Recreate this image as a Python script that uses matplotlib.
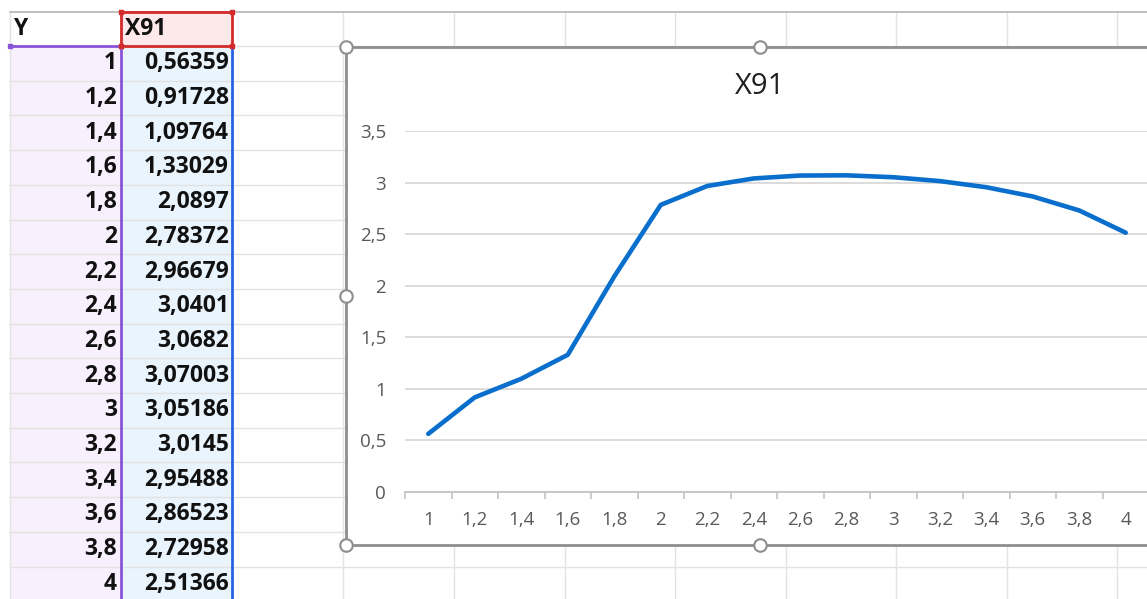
import numpy as np
import matplotlib
matplotlib.use("Agg")
import matplotlib.pyplot as plt
from matplotlib.patches import Rectangle

plt.rcParams['font.family'] = ['Open Sans', 'DejaVu Sans']

# Worksheet data
y_header = "Y"
x_header = "X91"
y_values = [1, 1.2, 1.4, 1.6, 1.8, 2, 2.2, 2.4, 2.6, 2.8, 3, 3.2, 3.4, 3.6, 3.8, 4]
x91_values = [0.56359, 0.91728, 1.09764, 1.33029, 2.0897, 2.78372, 2.96679, 3.0401,
              3.0682, 3.07003, 3.05186, 3.0145, 2.95488, 2.86523, 2.72958, 2.51366]
y_axis_ticks = [0, 0.5, 1, 1.5, 2, 2.5, 3, 3.5]


def fmt(v):
    return f"{v:g}".replace('.', ',')


W, H = 1147, 599
fig = plt.figure(figsize=(W / 100, H / 100), dpi=100)
fig.patch.set_facecolor('white')

# Sheet layer in pixel coordinates
bg = fig.add_axes([0, 0, 1, 1])
bg.set_xlim(0, W)
bg.set_ylim(H, 0)
bg.axis('off')

col_edges = [10, 121, 232, 343, 454, 565, 675, 786, 896, 1007, 1117]
top = 12
header_bottom = 46
row_h = 34.7
row_edges = [header_bottom + row_h * k for k in range(17)]

# cell fills
bg.add_patch(Rectangle((10, header_bottom), 111, H - header_bottom, fc='#f8f0fc', ec='none', zorder=0))
bg.add_patch(Rectangle((121, header_bottom), 111, H - header_bottom, fc='#eaf4fd', ec='none', zorder=0))
bg.add_patch(Rectangle((121, top), 111, header_bottom - top, fc='#fde9ea', ec='none', zorder=0))

grid_c = '#e2e2e2'
for yr in row_edges:
    bg.plot([10, W], [yr, yr], color=grid_c, lw=1.0, zorder=1)
for xc in col_edges:
    bg.plot([xc, xc], [top, H], color=grid_c, lw=1.0, zorder=1)
bg.plot([10, W], [top, top], color='#b4b4b4', lw=1.2, zorder=1)

# chart area
cl, ct, cb = 346, 47, 545
bg.add_patch(Rectangle((cl, ct), W + 20 - cl, cb - ct, fc='white', ec='#8e8e8e', lw=2.0, zorder=2))

# range highlight borders
purple = '#8a55d8'
red = '#d42a2a'
blue = '#2a62e0'
bg.plot([10, 121], [header_bottom, header_bottom], color=purple, lw=2, zorder=3)
bg.plot([121, 121], [header_bottom, H], color=purple, lw=2, zorder=3)
bg.plot([232, 232], [header_bottom, H], color=blue, lw=2, zorder=3)
bg.plot([121, 232, 232, 121, 121], [top, top, header_bottom, header_bottom, top], color=red, lw=2, zorder=3)
bg.plot([10, 121], [header_bottom, header_bottom], 's', ms=3.5, color=purple, zorder=4)
bg.plot([121, 232, 121, 232], [top, top, header_bottom, header_bottom], 's', ms=3.5, color=red, zorder=4)

# table text
tfont = dict(fontsize=16.5, fontweight='bold', color='#111111', zorder=5)
bg.text(13, (top + header_bottom) / 2, y_header, ha='left', va='center', **tfont)
bg.text(125, (top + header_bottom) / 2, x_header, ha='left', va='center', **tfont)
for i, (yv, xv) in enumerate(zip(y_values, x91_values)):
    yc = header_bottom + row_h * (i + 0.5)
    bg.text(117, yc, fmt(yv), ha='right', va='center', **tfont)
    bg.text(229, yc, fmt(xv), ha='right', va='center', **tfont)

# chart selection handles
hx = [cl, 760, cl, cl, 760]
hy = [ct, ct, (ct + cb) / 2, cb, cb]
bg.plot(hx, hy, 'o', ms=9, mfc='white', mec='#8e8e8e', mew=1.5, zorder=6, clip_on=False)

# chart title
fig.text(760 / W, 1 - 87 / H, x_header, ha='center', va='center', fontsize=21, color='#1f1f1f')

# plot area
n = len(y_values)
px_left, px_bottom, px_top = 405, 492, 131
ax = fig.add_axes([px_left / W, 1 - px_bottom / H, n * 46.5 / W, (px_bottom - px_top) / H], zorder=10)
ax.patch.set_alpha(0)
ax.plot(range(n), x91_values, color='#0a6fcc', lw=3.3,
        solid_capstyle='round', solid_joinstyle='round', zorder=3)
ax.set_xlim(-0.5, n - 0.5)
ax.set_ylim(0, 3.5)
ax.set_yticks(y_axis_ticks)
ax.set_yticklabels([fmt(v) for v in y_axis_ticks])
ax.set_xticks(range(n))
ax.set_xticklabels([fmt(v) for v in y_values])
ax.set_xticks(np.arange(-0.5, n, 1), minor=True)
ax.yaxis.grid(True, color='#d9d9d9', lw=1.3)
ax.set_axisbelow(True)
for s in ['left', 'right', 'top']:
    ax.spines[s].set_visible(False)
ax.spines['bottom'].set_color('#c4c4c4')
ax.spines['bottom'].set_linewidth(1.3)
ax.tick_params(axis='y', length=0, pad=13.5, labelsize=13.5, labelcolor='#595959')
ax.tick_params(axis='x', which='major', length=0, pad=14, labelsize=13.5, labelcolor='#595959')
ax.tick_params(axis='x', which='minor', length=5, width=1.2, color='#c4c4c4')

fig.savefig('out.png', dpi=100)
